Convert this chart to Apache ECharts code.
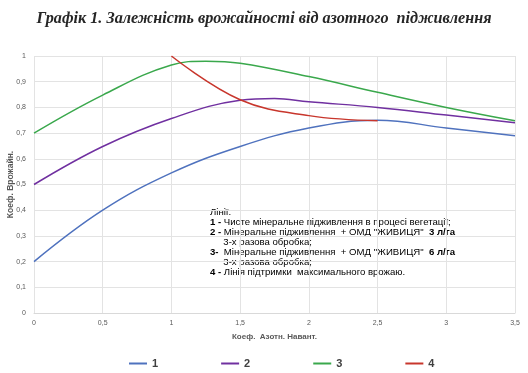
<!DOCTYPE html>
<html><head><meta charset="utf-8">
<script src="https://cdn.jsdelivr.net/npm/echarts@6/dist/echarts.min.js"></script>
<style>html,body{margin:0;padding:0;background:#fff}#c{width:528px;height:373px}</style>
</head><body><div id="c"></div>
<script>
const titleText = 'Графік 1. Залежність врожайності від азотного  підживлення';
const xName = 'Коеф.  Азотн. Навант.';
const yName = 'Коеф. Врожайн.';
const seriesNames = ['1', '2', '3', '4'];
const xValues1 = [0, 0.5, 1, 1.5, 2, 2.5, 3, 3.5];
const series1 = [0.2, 0.4, 0.545, 0.648, 0.72, 0.75, 0.72, 0.69];
const xValues2 = [0, 0.5, 1, 1.5, 1.75, 2, 2.5, 3, 3.5];
const series2 = [0.5, 0.648, 0.757, 0.828, 0.835, 0.822, 0.80, 0.77, 0.74];
const xValues3 = [0, 0.5, 1, 1.25, 1.5, 2, 2.5, 3, 3.5];
const series3 = [0.7, 0.848, 0.965, 0.98, 0.972, 0.92, 0.859, 0.80, 0.748];
const xValues4 = [1, 1.5, 2, 2.5];
const series4 = [1.0, 0.83, 0.768, 0.748];
const noteLines = [
  'Лінії:',
  '{b|1 -} Чисте мінеральне підживлення в процесі вегетації;',
  '{b|2 -} Мінеральне підживлення  + ОМД "ЖИВИЦЯ"  {b|3 л/га}',
  '     3-х разова обробка;',
  '{b|3-}  Мінеральне підживлення  + ОМД "ЖИВИЦЯ"  {b|6 л/га}',
  '     3-х разова обробка;',
  '{b|4 -} Лінія підтримки  максимального врожаю.'
];
const colors = ['#4f72be', '#7030a0', '#3aa84c', '#c8362c'];

const pairs = (xs, ys) => xs.map((x, i) => [x, ys[i]]);
const comma = v => String(Math.round(v * 10) / 10).replace('.', ',');

const chart = echarts.init(document.getElementById('c'), null, {renderer: 'canvas'});
chart.setOption({
  animation: false,
  title: {
    text: titleText, left: 'center', top: 6,
    textStyle: {fontFamily: 'Liberation Serif', fontStyle: 'italic', fontWeight: 'bold', fontSize: 16.2, color: '#262626'}
  },
  grid: {left: 34, right: 13, top: 56, bottom: 60, containLabel: false, outerBoundsMode: 'none'},
  xAxis: {
    type: 'value', min: 0, max: 3.5, interval: 0.5,
    name: xName, nameLocation: 'middle', nameGap: 20, nameMoveOverlap: false,
    nameTextStyle: {fontFamily: 'Liberation Sans', fontWeight: 'bold', fontSize: 8, color: '#595959'},
    axisLine: {show: true, lineStyle: {color: '#d9d9d9'}},
    axisTick: {show: false},
    axisLabel: {formatter: comma, fontFamily: 'Liberation Sans', fontSize: 7, color: '#595959', margin: 7},
    splitLine: {show: true, lineStyle: {color: '#e3e3e3', width: 1}}
  },
  yAxis: {
    type: 'value', min: 0, max: 1, interval: 0.1,
    name: yName, nameLocation: 'middle', nameGap: 19, nameMoveOverlap: false,
    nameTextStyle: {fontFamily: 'Liberation Sans', fontWeight: 'bold', fontSize: 8.5, color: '#595959'},
    axisLine: {show: false},
    axisTick: {show: false},
    axisLabel: {formatter: comma, fontFamily: 'Liberation Sans', fontSize: 7, color: '#595959', margin: 8},
    splitLine: {show: true, lineStyle: {color: '#e3e3e3', width: 1}}
  },
  legend: {
    top: 353, left: 124, itemGap: 63, itemWidth: 18, itemHeight: 2, icon: 'rect',
    textStyle: {fontFamily: 'Liberation Sans', fontWeight: 'bold', fontSize: 11, color: '#404040'},
    data: seriesNames
  },
  graphic: [{
    type: 'text', left: 210, top: 207,
    style: {
      fontFamily: 'Liberation Sans', fontSize: 9.6, lineHeight: 10, fill: '#000',
      text: noteLines.join('\n'),
      rich: {b: {fontFamily: 'Liberation Sans', fontWeight: 'bold', fontSize: 9.6, lineHeight: 10, fill: '#000'}}
    }
  }],
  series: [
    {name: seriesNames[0], type: 'line', data: pairs(xValues1, series1)},
    {name: seriesNames[1], type: 'line', data: pairs(xValues2, series2)},
    {name: seriesNames[2], type: 'line', data: pairs(xValues3, series3)},
    {name: seriesNames[3], type: 'line', data: pairs(xValues4, series4)}
  ].map((s, i) => Object.assign(s, {
    smooth: 0.4, symbol: 'none', color: colors[i],
    lineStyle: {color: colors[i], width: 1.5}
  }))
});
</script></body></html>
